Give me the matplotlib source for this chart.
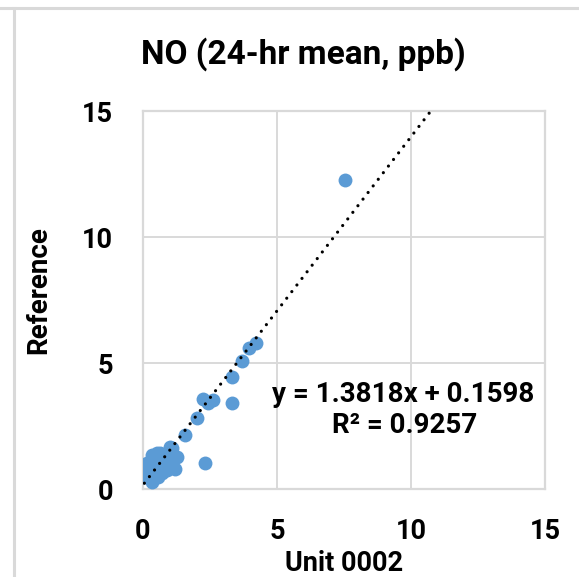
import matplotlib
matplotlib.use("Agg")
import matplotlib.pyplot as plt
from matplotlib.lines import Line2D
import numpy as np

plt.rcParams['font.family'] = ['Roboto', 'DejaVu Sans']
plt.rcParams['font.weight'] = 'bold'

# Data
unit_0002 = [7.54, 4.20, 3.96, 3.69, 3.32, 3.32, 2.61, 2.43, 2.24, 2.31, 2.02, 1.57,
             1.08, 1.27, 1.19, 1.00, 0.90, 0.82, 0.70, 0.63, 0.56, 0.52, 0.45, 0.34,
             0.34, 0.26, 0.26, 0.15, 0.15, 0.05, 0.05, 0.12, 1.00]
reference = [12.26, 5.80, 5.58, 5.08, 4.44, 3.41, 3.53, 3.41, 3.57, 1.03, 2.82, 2.16,
             1.63, 1.27, 0.80, 1.27, 0.75, 1.03, 0.63, 1.43, 0.48, 1.43, 1.07, 1.35,
             0.28, 0.75, 0.44, 0.87, 1.03, 0.48, 0.87, 0.60, 1.67]
slope, intercept = 1.3818, 0.1598
r2 = 0.9257
ticks = [0, 5, 10, 15]
title = "NO (24-hr mean, ppb)"
xlabel = "Unit 0002"
ylabel = "Reference"

W, H = 579, 577
fig = plt.figure(figsize=(W / 100, H / 100), dpi=100)
fig.patch.set_facecolor('white')

grid_c = '#d9d9d9'
L, R, T, B = 143, 545, 111, 489
ax = fig.add_axes([L / W, 1 - B / H, (R - L) / W, (B - T) / H])
ax.set_xlim(0, 15)
ax.set_ylim(0, 15)
ax.set_xticks(ticks)
ax.set_yticks(ticks)
ax.grid(True, color=grid_c, linewidth=1.4)
ax.set_axisbelow(True)
for s in ax.spines.values():
    s.set_color(grid_c)
    s.set_linewidth(1.6)
ax.tick_params(length=0, labelsize=19.5, pad=0)
ax.tick_params(axis='x', pad=21)
ax.tick_params(axis='y', pad=21.5)
for lab in ax.get_xticklabels() + ax.get_yticklabels():
    lab.set_fontweight('bold')

ax.scatter(unit_0002, reference, s=100, color='#5b9bd5', zorder=3, linewidths=0)

xs = np.array([min(unit_0002), 11.2])
ax.plot(xs, slope * xs + intercept, color='black', linewidth=2.3,
        linestyle=(0, (0.01, 2.6)), dash_capstyle='round', zorder=4, clip_on=True)

ax.text((403 - L) / (R - L), 1 - (402 - T) / (B - T),
        f"y = {slope:.4f}x + {intercept:.4f}", transform=ax.transAxes,
        ha='center', va='baseline', fontsize=20, fontweight='bold', zorder=5)
ax.text((405 - L) / (R - L), 1 - (433 - T) / (B - T),
        f"R² = {r2:.4f}", transform=ax.transAxes,
        ha='center', va='baseline', fontsize=20, fontweight='bold', zorder=5)

fig.text(303 / W, 1 - 64 / H, title, ha='center', va='baseline', fontsize=24, fontweight='bold')
fig.text(344 / W, 1 - 571 / H, xlabel, ha='center', va='baseline', fontsize=19.5, fontweight='bold')
fig.text(39 / W, 1 - 290 / H, ylabel, ha='center', va='center', rotation=90, fontsize=20, fontweight='bold')

# outer chart frame lines
fig.add_artist(Line2D([0, 1], [1 - 8 / H, 1 - 8 / H], transform=fig.transFigure, color=grid_c, linewidth=2.2))
fig.add_artist(Line2D([14 / W, 14 / W], [0, 1 - 8 / H], transform=fig.transFigure, color=grid_c, linewidth=2.2))

fig.savefig('out.png', dpi=100)
